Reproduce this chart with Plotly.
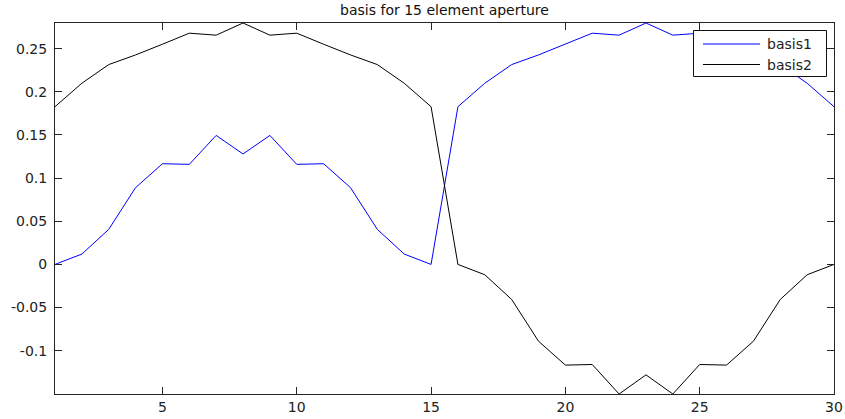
import plotly.graph_objects as go

# ---- data ----
element = [1, 2, 3, 4, 5, 6, 7, 8, 9, 10, 11, 12, 13, 14, 15,
           16, 17, 18, 19, 20, 21, 22, 23, 24, 25, 26, 27, 28, 29, 30]
basis1 = [0.0, 0.012, 0.0406, 0.089, 0.1167, 0.116, 0.1495, 0.128, 0.1495, 0.116,
          0.1167, 0.089, 0.0406, 0.012, 0.0,
          0.1828, 0.210, 0.2316, 0.2428, 0.2552, 0.268, 0.2657, 0.2798, 0.2657, 0.268,
          0.2552, 0.2428, 0.2316, 0.210, 0.1828]
basis2 = [0.1828, 0.210, 0.2316, 0.2428, 0.2552, 0.268, 0.2657, 0.2798, 0.2657, 0.268,
          0.2552, 0.2428, 0.2316, 0.210, 0.1828,
          0.0, -0.012, -0.0406, -0.089, -0.1167, -0.116, -0.1502, -0.128, -0.1502, -0.116,
          -0.1167, -0.089, -0.0406, -0.012, 0.0]
series_names = ["basis1", "basis2"]
series_colors = ["#0000ff", "#000000"]
title_text = "basis for 15 element aperture"
x_ticks = [5, 10, 15, 20, 25, 30]
y_ticks = [-0.1, -0.05, 0, 0.05, 0.1, 0.15, 0.2, 0.25]
y_ticklabels = ["-0.1", "-0.05", "0", "0.05", "0.1", "0.15", "0.2", "0.25"]

W, H = 845, 419
L, R, T, B = 55, 11, 23, 25
FONT = "DejaVu Sans"
FS = 14
AX = "#262626"

fig = go.Figure()
for name, ys, col in zip(series_names, [basis1, basis2], series_colors):
    fig.add_trace(go.Scatter(x=element, y=ys, mode="lines", name=name,
                             line=dict(color=col, width=1), showlegend=False))

fig.update_layout(
    width=W, height=H,
    margin=dict(l=L, r=R, t=T, b=B, pad=0, autoexpand=False),
    paper_bgcolor="white", plot_bgcolor="white",
    font=dict(family=FONT, size=FS, color="#222222"),
    title=dict(text=title_text, x=(L + (W - R)) / 2 / W, xanchor="center",
               y=1 - 10 / H, yanchor="middle",
               font=dict(family=FONT, size=FS, color="#111111")),
)
fig.update_xaxes(range=[1, 30], tickvals=x_ticks, ticks="inside", ticklen=7,
                 tickcolor=AX, showline=True, linecolor=AX, linewidth=1,
                 mirror="ticks", showgrid=False, zeroline=False, automargin=False)
fig.update_yaxes(range=[-0.1502, 0.2798], tickvals=y_ticks, ticktext=y_ticklabels,
                 ticks="inside", ticklen=7, tickcolor=AX, showline=True,
                 linecolor=AX, linewidth=1, mirror="ticks", showgrid=False,
                 zeroline=False, ticklabelstandoff=4, automargin=False)

# ---- legend box (drawn in pixel-derived paper coords) ----
pw, ph = W - L - R, H - T - B
def px(xp):
    return (xp - L) / pw
def py(yp):
    return (H - B - yp) / ph

fig.add_shape(type="rect", xref="paper", yref="paper",
              x0=px(693.5), x1=px(826.5), y0=py(76.5), y1=py(30.5),
              line=dict(color="#111111", width=1), fillcolor="white", layer="above")
rows = [44, 64.5]
for name, col, yr in zip(series_names, series_colors, rows):
    fig.add_shape(type="line", xref="paper", yref="paper",
                  x0=px(703), x1=px(760), y0=py(yr), y1=py(yr),
                  line=dict(color=col, width=1), layer="above")
    fig.add_annotation(xref="paper", yref="paper", x=px(765), y=py(yr),
                       xanchor="left", yanchor="middle", text=name, showarrow=False,
                       font=dict(family=FONT, size=FS, color="#222222"))

fig.write_html("out.html")
